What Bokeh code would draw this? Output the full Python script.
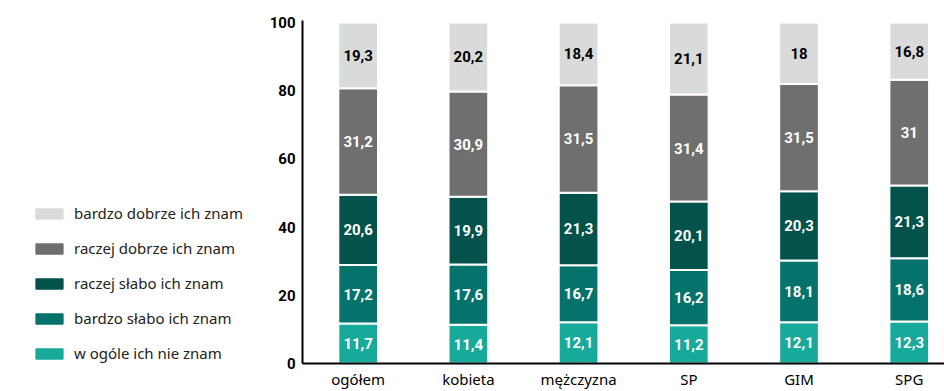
from bokeh.plotting import figure
from bokeh.layouts import row
from bokeh.models import ColumnDataSource, Range1d, FixedTicker, Legend, LegendItem, CustomJSTickFormatter
from bokeh.core.properties import value
from bokeh.embed import file_html
from bokeh.resources import INLINE
import numpy as np

categories = ["ogółem", "kobieta", "mężczyzna", "SP", "GIM", "SPG"]
series_names = ["w ogóle ich nie znam", "bardzo słabo ich znam", "raczej słabo ich znam",
                "raczej dobrze ich znam", "bardzo dobrze ich znam"]
nie_znam = [11.7, 11.4, 12.1, 11.2, 12.1, 12.3]
bardzo_slabo = [17.2, 17.6, 16.7, 16.2, 18.1, 18.6]
raczej_slabo = [20.6, 19.9, 21.3, 20.1, 20.3, 21.3]
raczej_dobrze = [31.2, 30.9, 31.5, 31.4, 31.5, 31.0]
bardzo_dobrze = [19.3, 20.2, 18.4, 21.1, 18.0, 16.8]
y_ticks = [0, 20, 40, 60, 80, 100]

colors = ["#17a99a", "#05736c", "#03524b", "#6f6f6f", "#d9dbda"]
text_colors = ["white", "white", "white", "white", "black"]
series = [nie_znam, bardzo_slabo, raczej_slabo, raczej_dobrze, bardzo_dobrze]
keys = ["s0", "s1", "s2", "s3", "s4"]

xs = list(range(len(categories)))
data = {"x": xs}
for k, s in zip(keys, series):
    data[k] = s
src = ColumnDataSource(data)

LEFT_W = 250
p = figure(width=944 - LEFT_W, height=391, output_backend="svg", toolbar_location=None,
           x_range=Range1d(-0.505, 5.32), y_range=Range1d(0, 100.6),
           min_border_left=52, min_border_right=0, min_border_top=20, min_border_bottom=0)
p.outline_line_color = None
p.grid.visible = False

renderers = p.vbar_stack(keys, x="x", width=0.36, source=src, color=colors,
                         line_color="white", line_width=2)

# labels
font = value("Roboto")
bottoms = np.zeros(len(categories))
for s, tc in zip(series, text_colors):
    arr = np.array(s)
    centers = bottoms + arr / 2
    labels = [(str(int(v)) if float(v).is_integer() else str(v)).replace(".", ",") for v in s]
    lsrc = ColumnDataSource(dict(x=xs, y=centers, t=labels))
    p.text(x="x", y="y", text="t", source=lsrc, text_align="center", text_baseline="middle",
           text_color=tc, text_font=font, text_font_style="bold", text_font_size="15px")
    bottoms = bottoms + arr

# axes
p.xaxis.ticker = FixedTicker(ticks=xs)
p.xaxis.formatter = CustomJSTickFormatter(args=dict(c=categories), code="return c[Math.round(tick)];")
p.xaxis.axis_line_width = 2
p.xaxis.axis_line_color = "black"
p.xaxis.major_tick_line_color = None
p.xaxis.minor_tick_line_color = None
p.xaxis.major_tick_out = 0
p.xaxis.major_label_text_font = "Noto Sans"
p.xaxis.major_label_text_font_size = "15px"
p.xaxis.major_label_text_color = "black"
p.xaxis.major_label_standoff = 5

p.yaxis.ticker = FixedTicker(ticks=y_ticks)
p.yaxis.axis_line_width = 2
p.yaxis.axis_line_color = "black"
p.yaxis.major_tick_line_color = None
p.yaxis.minor_tick_line_color = None
p.yaxis.major_tick_out = 0
p.yaxis.major_label_text_font = "Roboto"
p.yaxis.major_label_text_font_style = "bold"
p.yaxis.major_label_text_font_size = "15px"
p.yaxis.major_label_text_color = "black"
p.yaxis.major_label_standoff = 7

# legend panel (separate figure on the left); its glyphs use the same data, kept out of view
lp = figure(width=LEFT_W, height=391, output_backend="svg", toolbar_location=None,
            x_range=Range1d(-100, -99), y_range=Range1d(0, 1),
            x_axis_location=None, y_axis_location=None,
            min_border_left=0, min_border_right=0, min_border_top=0, min_border_bottom=0)
lp.grid.visible = False
lp.outline_line_color = None
lrs = lp.vbar_stack(keys, x="x", width=0.36, source=src, color=colors)
items = [LegendItem(label=n, renderers=[r]) for n, r in zip(series_names, lrs)]
legend = Legend(items=list(reversed(items)), location=(32, 0),
                glyph_width=34, glyph_height=13, label_height=18, spacing=15,
                label_standoff=8, padding=0, margin=0, border_line_color=None,
                background_fill_alpha=0, label_text_font="Noto Sans",
                label_text_font_size="15px", label_text_color="#222222")
lp.add_layout(legend, "center")

layout = row(lp, p, spacing=0)
open("out.html", "w").write(file_html(layout, INLINE))
